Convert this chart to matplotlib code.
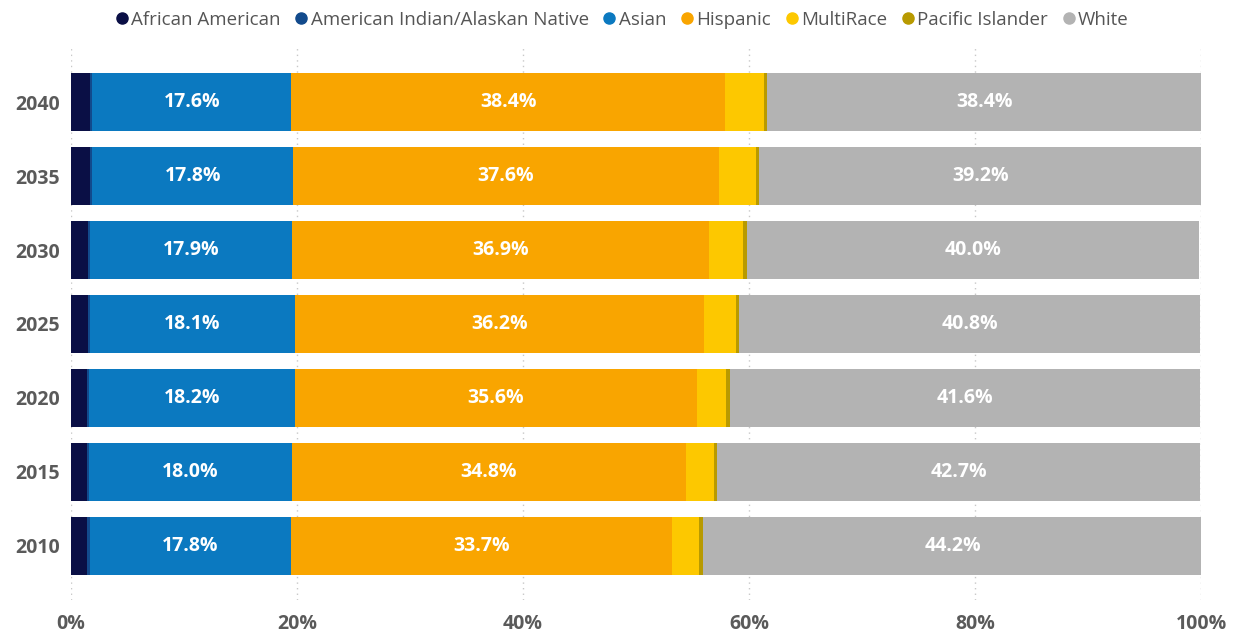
import numpy as np
import matplotlib.pyplot as plt

plt.rcParams['font.family'] = ['Open Sans', 'DejaVu Sans']

years = ['2010', '2015', '2020', '2025', '2030', '2035', '2040']
groups = ['African American', 'American Indian/Alaskan Native', 'Asian', 'Hispanic',
          'MultiRace', 'Pacific Islander', 'White']
african_american = [1.4, 1.4, 1.4, 1.5, 1.5, 1.7, 1.7]
american_indian = [0.3, 0.2, 0.2, 0.2, 0.2, 0.2, 0.2]
asian = [17.8, 18.0, 18.2, 18.1, 17.9, 17.8, 17.6]
hispanic = [33.7, 34.8, 35.6, 36.2, 36.9, 37.6, 38.4]
multirace = [2.4, 2.5, 2.6, 2.8, 3.0, 3.3, 3.4]
pacific_islander = [0.3, 0.3, 0.3, 0.3, 0.3, 0.3, 0.3]
white = [44.2, 42.7, 41.6, 40.8, 40.0, 39.2, 38.4]

colors = ['#0a0f45', '#124a8c', '#0b79c0', '#f9a500', '#fdc800', '#b89a00', '#b3b3b3']
labeled = {'Asian', 'Hispanic', 'White'}


def main():
    series = [african_american, american_indian, asian, hispanic,
              multirace, pacific_islander, white]
    fig = plt.figure(figsize=(12.41, 6.34), dpi=100)
    ax = fig.add_axes([0.057, 0.054, 0.911, 0.87])
    y = np.arange(len(years))
    left = np.zeros(len(years))
    for name, vals, c in zip(groups, series, colors):
        vals = np.array(vals)
        ax.barh(y, vals, left=left, height=0.78, color=c, label=name)
        if name in labeled:
            for yi, l, v in zip(y, left, vals):
                ax.text(l + v / 2, yi, f'{v:.1f}%', ha='center', va='center',
                        color='white', fontsize=14, fontweight='bold')
        left += vals

    ax.set_xlim(0, 100)
    ax.set_ylim(-0.73, 6.73)
    ax.set_yticks(y)
    ax.set_yticklabels(years)
    ax.set_xticks(np.arange(0, 101, 20))
    ax.set_xticklabels([f'{v}%' for v in range(0, 101, 20)])
    ax.tick_params(length=0, labelsize=14, labelcolor='#5a5a5a')
    for lab in ax.get_xticklabels() + ax.get_yticklabels():
        lab.set_fontweight('bold')
    ax.tick_params(axis='x', pad=10)
    ax.tick_params(axis='y', pad=8)
    ax.grid(axis='x', color='#c8c8c8', linestyle=(0, (1, 3)), linewidth=1)
    ax.set_axisbelow(True)
    for s in ax.spines.values():
        s.set_visible(False)

    handles = [plt.Line2D([], [], marker='o', linestyle='', color=c, markersize=8)
               for c in colors]
    fig.legend(handles, groups, loc='upper center', bbox_to_anchor=(0.5, 1.01), ncol=7,
               frameon=False, fontsize=13.5, labelcolor='#555555', handletextpad=0.0,
               columnspacing=0.6, handlelength=1.0)
    fig.savefig('out.png', dpi=100)
    plt.close(fig)


if __name__ == '__main__':
    main()
